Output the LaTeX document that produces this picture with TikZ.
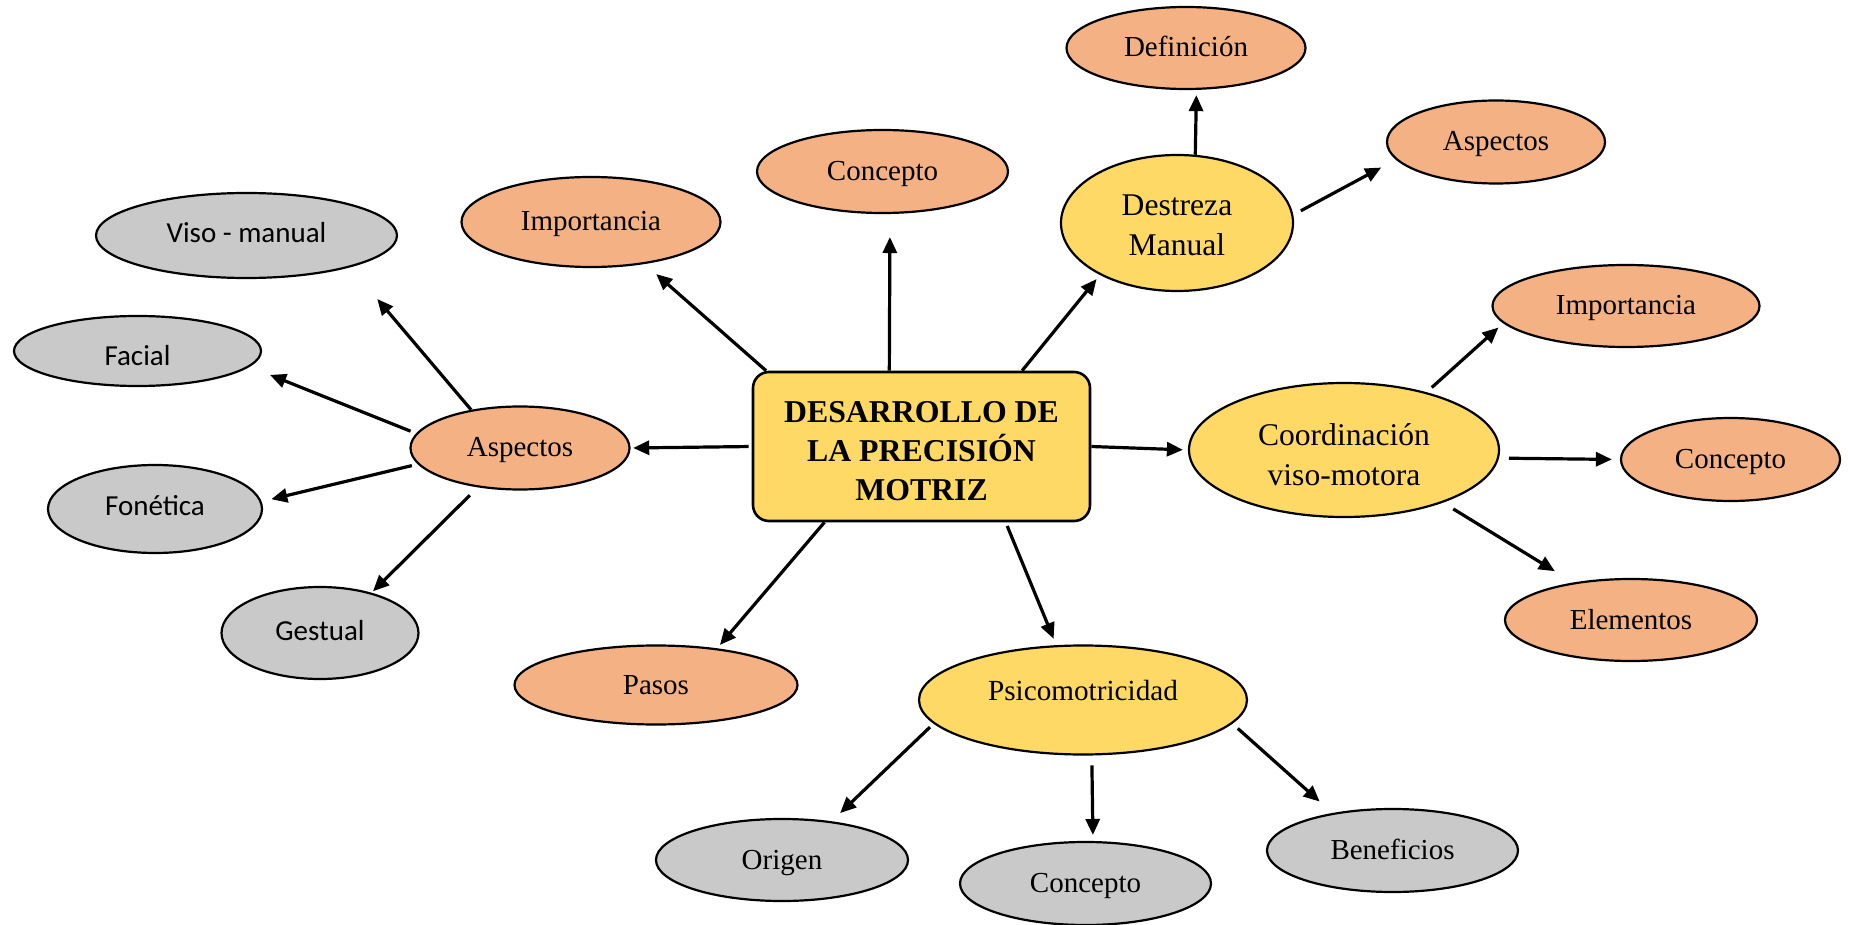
\documentclass[tikz,border=0pt]{standalone}
\usepackage{fontspec}
\setmainfont{Liberation Serif}
\newfontfamily\calibri{Carlito}
\usetikzlibrary{arrows.meta, shapes.geometric}

\definecolor{amarillo}{HTML}{FFD966}
\definecolor{naranja}{HTML}{F4B183}
\definecolor{gris}{HTML}{C9C9C9}

\tikzset{
	dim/.style 2 args={minimum width=#1*0.5pt, minimum height=#2*0.5pt},
	burbuja/.style={ellipse, draw, line width=1.1pt, inner sep=0pt},
	titulo/.style={rectangle, rounded corners=8pt, draw, line width=1.3pt, fill=amarillo, align=center, inner sep=0pt, font=\bfseries\fontsize{15.9}{19.6}\selectfont},
	tema/.style={burbuja, fill=amarillo, align=center, font=\fontsize{15.8}{20}\selectfont},
	sub/.style={burbuja, fill=naranja, font=\fontsize{14.5}{17}\selectfont, text height=11.5pt, text depth=2.5pt},
	hoja/.style={burbuja, fill=gris, font=\fontsize{14.5}{17}\selectfont, text height=11.5pt, text depth=2.5pt},
	hojasans/.style={hoja, font=\calibri\fontsize{14.5}{17}\selectfont, text height=10.2pt, text depth=3.2pt},
	flecha/.style={-{Triangle[length=8pt,width=7pt]}, line width=1.6pt}
}

\begin{document}
\begin{tikzpicture}[x=0.5pt, y=-0.5pt]
		\useasboundingbox (0,0) rectangle (1849,925);

		\node[titulo, dim={337}{149}, text height=54.4pt] (dev) at (921.5,446.5) {DESARROLLO DE\\LA PRECISIÓN\\MOTRIZ};

		\node[sub, dim={251}{83}] (con1) at (882.5,171.5) {Concepto};
		\node[sub, dim={259}{90}] (imp1) at (591,222) {Importancia};
		\node[sub, dim={283}{79}] (pas) at (656,685) {Pasos};
		\node[sub, dim={219}{83}] (asp2) at (520,448) {Aspectos};

		\node[tema, dim={232}{136}, text height=32.5pt] (des) at (1177,223) {Destreza\\Manual};
		\node[sub, dim={239}{82}] (def) at (1186,48) {Definición};
		\node[sub, dim={218}{83}] (asp1) at (1496,142) {Aspectos};

		\node[tema, dim={310}{134}, text height=35.5pt] (coo) at (1344,450) {Coordinación\\viso-motora};
		\node[sub, dim={267}{82}] (imp2) at (1626,306) {Importancia};
		\node[sub, dim={219}{83}] (con2) at (1730.5,459.5) {Concepto};
		\node[sub, dim={252}{82}] (ele) at (1631,620) {Elementos};

		\node[tema, dim={328}{109}, font=\fontsize{14.6}{17}\selectfont, text height=10.2pt, text depth=10.2pt] (psi) at (1083,700) {Psicomotricidad};
		\node[hoja, dim={252}{82}] (ori) at (782,860) {Origen};
		\node[hoja, dim={251}{83}] (con3) at (1085.5,883.5) {Concepto};
		\node[hoja, dim={251}{83}] (ben) at (1392.5,850.5) {Beneficios};

		\node[hojasans, dim={301}{85}] (vis) at (246.5,235.5) {Viso - manual};
		\node[hojasans, dim={247}{70}, text height=17.2pt] (fac) at (137.5,351) {Facial};
		\node[hojasans, dim={214}{88}] (fon) at (155,509) {Fonética};
		\node[hojasans, dim={197}{92}] (ges) at (320,633) {Gestual};

		\draw[flecha, shorten >=7.6pt] (dev.154) -- (imp1.-38);
		\draw[flecha, shorten >=11.5pt] (dev.113) -- (con1.-80);
		\draw[flecha, shorten >=2.6pt] (dev.37) -- (des.214);
		\draw[flecha, shorten <=1.5pt, shorten >=1.3pt] (dev.west) -- (asp2.east);
		\draw[flecha, shorten >=2.5pt] (dev.east) -- (coo.west);
		\draw[flecha, shorten >=2.2pt] (dev.218) -- (pas.31);
		\draw[flecha, shorten <=2pt, shorten >=3.4pt] (dev.-42) -- (psi.116);

		\draw[flecha, shorten >=2.6pt] (des.75) -- (def.-76);
		\draw[flecha, shorten <=4.3pt, shorten >=8.3pt] (des.4) -- (asp1.190);

		\draw[flecha, shorten <=3.5pt, shorten >=3.2pt] (coo.35) -- (imp2.188);
		\draw[flecha, shorten <=5pt, shorten >=4pt] (coo.-3) -- (con2.west);
		\draw[flecha, shorten <=6pt, shorten >=10.8pt] (coo.-28) -- (ele.147);

		\draw[flecha, shorten <=2.5pt, shorten >=5.9pt] (psi.189) -- (ori.38);
		\draw[flecha, shorten <=4.9pt, shorten >=3pt] (psi.-81) -- (con3.80);
		\draw[flecha, shorten <=3.6pt, shorten >=8.6pt] (psi.-9) -- (ben.148);

		\draw[flecha, shorten >=20.8pt] (asp2.142) -- (vis.-17);
		\draw[flecha, shorten <=3pt, shorten >=11pt] (asp2.172) -- (fac.-8);
		\draw[flecha, shorten <=3pt, shorten >=5pt] (asp2.189) -- (fon.4);
		\draw[flecha, shorten <=5.6pt, shorten >=1pt] (asp2.223) -- (ges.38);
	\end{tikzpicture}
\end{document}
